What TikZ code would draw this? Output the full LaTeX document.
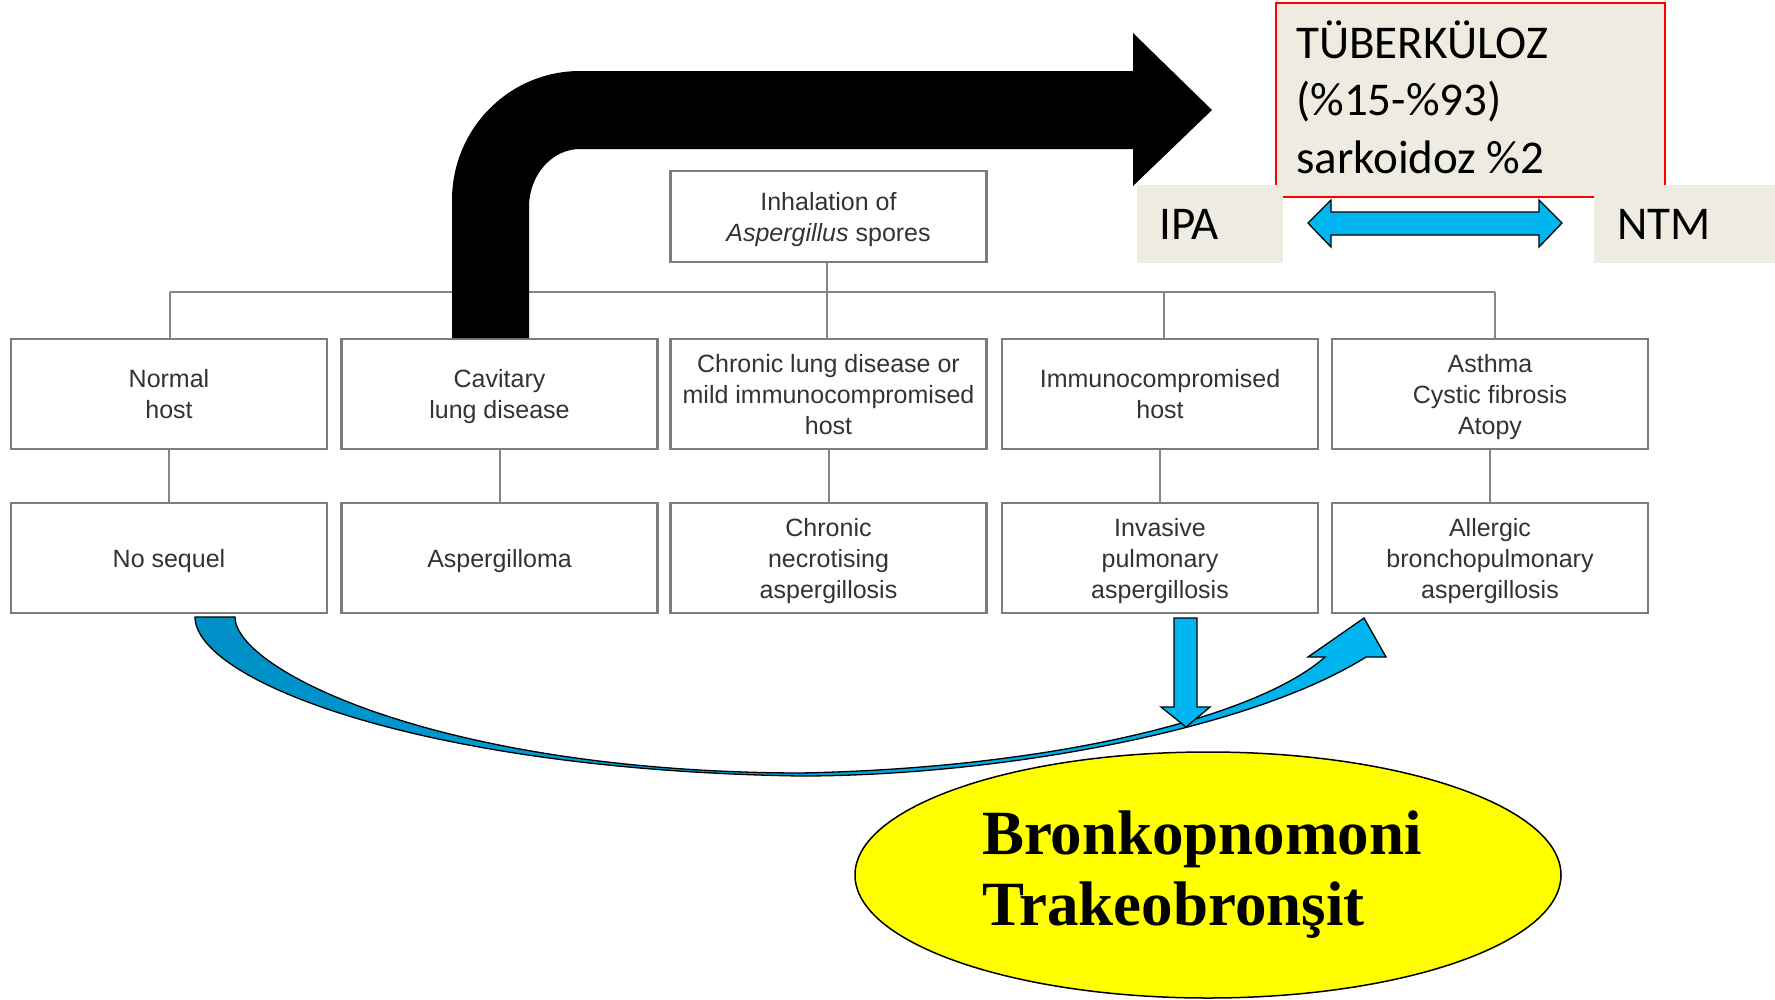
\documentclass[tikz,border=0pt]{standalone}
\usepackage{fontspec}
\setmainfont{Liberation Sans}
\newfontfamily\boxfont{Liberation Sans}
\newfontfamily\notefont{Carlito}
\newfontfamily\bigserif{Liberation Serif}
\usetikzlibrary{shapes.geometric}

\definecolor{boxgray}{HTML}{7C7C7C}
\definecolor{linegray}{HTML}{858585}
\definecolor{boxtext}{HTML}{333333}
\definecolor{paper}{HTML}{EEECE1}
\definecolor{skyblue}{HTML}{00B6F1}
\definecolor{deepblue}{HTML}{008FC6}
\definecolor{lemon}{HTML}{FFFF00}

\begin{document}
\begin{tikzpicture}[x=1pt,y=-1pt,
  flowbox/.style={draw=boxgray, line width=2.5pt, fill=white,
    minimum width=316pt, inner sep=0pt, align=center, text depth=0pt,
    font=\boxfont\fontsize{25}{31}\selectfont, text=boxtext},
  tallbox/.style={flowbox, minimum height=110pt},
  conn/.style={draw=linegray, line width=2pt},
  notebox/.style={fill=paper, draw=none},
  notetext/.style={inner sep=0pt, align=left, anchor=base west,
    font=\notefont\fontsize{47}{57.5}\selectfont, text=black},
  bluearrow/.style={fill=skyblue, draw=black, line width=1.3pt, line join=miter}
]
\useasboundingbox (0,0) rectangle (1775,999);
\fill[white] (0,0) rectangle (1775,999);

% ---- flowchart: root, bus and two rows of boxes
\node[flowbox, minimum height=91pt] (inh) at (828.5,216.5)
  {Inhalation of\\\textit{Aspergillus} spores};

\node[tallbox] (n1) at (169,394)   {Normal\\host};
\node[tallbox] (n2) at (499.5,394) {Cavitary\\lung disease};
\node[tallbox] (n3) at (828.5,394) {Chronic lung disease or\\mild immunocompromised\\host};
\node[tallbox] (n4) at (1160,394)  {Immunocompromised\\host};
\node[tallbox] (n5) at (1490,394)  {Asthma\\Cystic fibrosis\\Atopy};

\node[tallbox] (m1) at (169,558)   {No sequel};
\node[tallbox] (m2) at (499.5,558) {Aspergilloma};
\node[tallbox] (m3) at (828.5,558) {Chronic\\necrotising\\aspergillosis};
\node[tallbox] (m4) at (1160,558)  {Invasive\\pulmonary\\aspergillosis};
\node[tallbox] (m5) at (1490,558)  {Allergic\\bronchopulmonary\\aspergillosis};

\coordinate (j1) at (170,292);
\coordinate (j2) at (499,292);
\coordinate (j3) at (827,292);
\coordinate (j4) at (1164,292);
\coordinate (j5) at (1495,292);

\draw[conn] (j1) -- (j5);
\draw[conn] (inh.south -| j3) -- (j3);
\foreach \j/\n in {j1/n1, j2/n2, j3/n3, j4/n4, j5/n5}
  \draw[conn] (\j) -- (\j |- \n.north);
\foreach \n/\m in {n1/m1, n2/m2, n3/m3, n4/m4, n5/m5}
  \draw[conn] (\n.south -| \m) -- (\m.north);

% ---- big black bent arrow rising from the cavitary box
\fill[black] (452,338) -- (452,200)
  .. controls (452,129) and (509,71) .. (580,71)
  -- (1133,71) -- (1133,33) -- (1212,110) -- (1133,186) -- (1133,149)
  -- (580,149)
  .. controls (552,149) and (529,175) .. (529,207)
  -- (529,338) -- cycle;

% ---- note boxes in the upper right
\filldraw[fill=paper, draw=red, line width=1.8pt] (1276,3) rectangle (1665,197);
% multi-line node: its base anchor sits on the last line
\node[notetext] (tb) at (1296,173) {TÜBERKÜLOZ\\(\%15-\%93)\\sarkoidoz \%2};

\fill[notebox] (1137,185) rectangle (1283,263);
\node[notetext] (ipa) at (1159,239) {IPA};
\fill[notebox] (1594,185) rectangle (1775,263);
\node[notetext] (ntm) at (1617,239) {NTM};

\draw[bluearrow] (1308,223) -- (1331,200) -- (1331,212) -- (1539,212)
  -- (1539,200) -- (1562,223) -- (1539,247) -- (1539,235)
  -- (1331,235) -- (1331,247) -- cycle;

% ---- yellow ellipse
\node[ellipse, fill=lemon, draw=black, line width=1.5pt,
  minimum width=706pt, minimum height=246pt, inner sep=0pt, align=left,
  font=\bigserif\bfseries\fontsize{63}{71}\selectfont] (ell) at (1208,875)
  {Bronkopnomoni\hspace*{12pt}\\Trakeobronşit};

% ---- curved arrow from "No sequel" to the allergic box
\path[left color=deepblue, right color=skyblue, draw=black, line width=1.3pt]
  (195,617) .. controls (195,680) and (420,770) .. (800,776)
  .. controls (1000,776) and (1250,730) .. (1366,657)
  -- (1386,657) -- (1364,618) -- (1308,657) -- (1325,657)
  .. controls (1260,715) and (1060,768) .. (800,773)
  .. controls (440,772) and (235,670) .. (235,617) -- cycle;

% ---- short arrow down from invasive pulmonary aspergillosis
\draw[bluearrow] (1174,618) -- (1197,618) -- (1197,707) -- (1210,707)
  -- (1186,727) -- (1161,707) -- (1174,707) -- cycle;
\end{tikzpicture}
\end{document}
